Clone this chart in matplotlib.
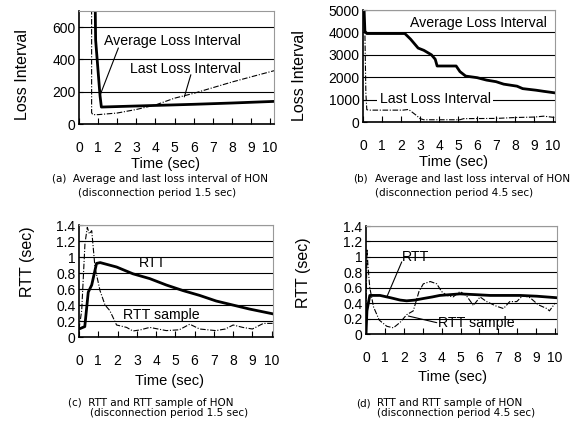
import matplotlib
matplotlib.use('Agg')
import matplotlib.pyplot as plt

plt.rcParams['font.family'] = ['Liberation Sans', 'DejaVu Sans']

# (a) disconnection 1.5 sec, loss interval
a_avg_t = [0.84, 0.87, 0.95, 1.05, 1.10, 1.17, 2, 4, 6, 8, 10.2]
a_avg_v = [800, 520, 400, 250, 175, 105, 108, 115, 122, 130, 140]
a_last_t = [0.66, 0.66, 0.72, 1.0, 2, 3, 4, 5, 6, 7, 8, 9, 10.2]
a_last_v = [800, 70, 58, 58, 68, 90, 118, 160, 190, 225, 260, 292, 330]

# (b) disconnection 4.5 sec, loss interval
b_avg_t = [0.05, 0.1, 0.2, 2.2, 2.5, 2.9, 3.2, 3.6, 3.8, 3.9, 4.9, 5.1, 5.4, 6.0,
           6.5, 7.0, 7.4, 8.1, 8.4, 9.1, 9.5, 10.1]
b_avg_v = [5200, 4050, 3950, 3950, 3700, 3300, 3200, 3000, 2800, 2500, 2500, 2250,
           2050, 1980, 1870, 1800, 1690, 1600, 1490, 1420, 1370, 1300]
b_last_t = [0.03, 0.1, 0.15, 0.2, 0.3, 2.1, 2.4, 2.8, 3.0, 3.2, 5.1, 5.3, 7.0,
            8.0, 9.0, 9.5, 10.1]
b_last_v = [5200, 4000, 1300, 550, 530, 530, 560, 300, 150, 100, 100, 150, 160,
            200, 220, 260, 200]

# (c) disconnection 1.5 sec, RTT
c_rtt_t = [0, 0.3, 0.48, 0.66, 0.91, 1.1, 1.95, 2.8, 3.67, 4.53, 5.4, 6.26, 7.12,
           7.98, 8.84, 10.05]
c_rtt_v = [0.1, 0.13, 0.56, 0.65, 0.92, 0.93, 0.875, 0.79, 0.73, 0.65, 0.58, 0.52,
           0.45, 0.40, 0.35, 0.29]
c_smp_t = [0, 0.14, 0.31, 0.43, 0.54, 0.66, 0.83, 1.09, 1.35, 1.6, 1.95, 2.47,
           2.8, 3.2, 3.67, 4.1, 4.53, 5.2, 5.75, 6.26, 7.1, 7.6, 8.0, 8.5, 9.0,
           9.57, 10.05]
c_smp_v = [0.1, 0.33, 1.17, 1.37, 1.29, 1.33, 0.87, 0.58, 0.40, 0.33, 0.15, 0.12,
           0.075, 0.09, 0.12, 0.1, 0.08, 0.09, 0.16, 0.1, 0.08, 0.1, 0.15, 0.12,
           0.1, 0.17, 0.17]

# (d) disconnection 4.5 sec, RTT
d_rtt_t = [0, 0.05, 0.2, 0.74, 1.3, 1.8, 2.15, 2.6, 3.03, 3.5, 3.9, 4.97, 5.8,
           6.56, 7.4, 8.15, 9.03, 10.1]
d_rtt_v = [0.0, 0.3, 0.5, 0.5, 0.47, 0.44, 0.43, 0.44, 0.46, 0.48, 0.5, 0.52,
           0.51, 0.5, 0.5, 0.5, 0.49, 0.47]
d_smp_t = [0, 0.05, 0.1, 0.2, 0.4, 0.7, 1.1, 1.45, 1.8, 2.15, 2.5, 2.68, 2.8,
           3.03, 3.4, 3.74, 4.0, 4.27, 4.6, 4.97, 5.3, 5.68, 6.03, 6.38, 6.9,
           7.27, 7.6, 7.97, 8.3, 8.68, 9.1, 9.56, 9.7, 10.0]
d_smp_v = [0.2, 1.1, 0.9, 0.6, 0.35, 0.18, 0.1, 0.08, 0.15, 0.25, 0.3, 0.45,
           0.55, 0.65, 0.68, 0.65, 0.55, 0.5, 0.48, 0.55, 0.5, 0.37, 0.48, 0.42,
           0.36, 0.33, 0.42, 0.42, 0.5, 0.47, 0.38, 0.33, 0.3, 0.4]

x_ticks = list(range(11))
loss_a_ticks = [0, 200, 400, 600]
loss_b_ticks = [0, 1000, 2000, 3000, 4000, 5000]
rtt_ticks = [0, 0.2, 0.4, 0.6, 0.8, 1.0, 1.2, 1.4]
rtt_labels = ['0', '0.2', '0.4', '0.6', '0.8', '1', '1.2', '1.4']

W, H = 574, 423
fig = plt.figure(figsize=(W / 100, H / 100), dpi=100)


def box(l, t, r, b):
    return [l / W, 1 - b / H, (r - l) / W, (b - t) / H]


def style(ax, xmax, yticks, ylim, ylabel, ylx, yly, xlx, xly, ylabels=None):
    ax.set_xlim(0, xmax)
    ax.set_ylim(*ylim)
    ax.set_xticks(x_ticks)
    ax.set_yticks(yticks)
    if ylabels:
        ax.set_yticklabels(ylabels)
    ax.tick_params(axis='x', direction='in', length=4, width=0.8, pad=12.5, labelsize=10)
    ax.tick_params(axis='y', direction='in', length=3, width=0.8, pad=2.5, labelsize=10)
    ax.yaxis.grid(True, color='black', lw=0.8)
    ax.set_axisbelow(True)
    for s in ['top', 'right']:
        ax.spines[s].set_color('#999999')
        ax.spines[s].set_linewidth(0.8)
    for s in ['left', 'bottom']:
        ax.spines[s].set_linewidth(1.2)
    ax.set_ylabel(ylabel, fontsize=11.5)
    ax.yaxis.set_label_coords(ylx, yly)
    ax.yaxis.label.set_va('center')
    ax.set_xlabel('Time (sec)', fontsize=10.5)
    ax.xaxis.set_label_coords(xlx, xly)
    ax.xaxis.label.set_va('top')


solid = dict(color='black', lw=2.0)
dashd = dict(color='black', lw=0.8, dashes=(5, 1.5, 1, 1.5))
lead = dict(arrowstyle='-', color='black', lw=0.8, shrinkA=0, shrinkB=0)
lab = dict(fontsize=10.2, va='center')

# (a)
ax = fig.add_axes(box(79, 11, 274, 124))
ax.plot(a_last_t, a_last_v, **dashd)
ax.plot(a_avg_t, a_avg_v, **solid)
style(ax, 10.2, loss_a_ticks, (0, 700), 'Loss Interval', -0.29, 0.434, 0.446, -0.288)
ax.text(1.3, 512, 'Average Loss Interval', **lab)
ax.annotate('', xy=(1.1, 178), xytext=(2.06, 471), arrowprops=lead)
ax.text(2.67, 343, 'Last Loss Interval', **lab)
ax.annotate('', xy=(5.51, 168), xytext=(5.85, 305), arrowprops=lead)

# (b)
ax = fig.add_axes(box(363, 10, 555, 122))
ax.plot(b_last_t, b_last_v, **dashd)
ax.plot(b_avg_t, b_avg_v, **solid)
style(ax, 10.1, loss_b_ticks, (0, 5000), 'Loss Interval', -0.333, 0.411, 0.469, -0.295)
ax.text(2.48, 4433, 'Average Loss Interval', bbox=dict(fc='white', ec='none', pad=1), **lab)
ax.text(0.87, 1015, 'Last Loss Interval', bbox=dict(fc='white', ec='none', pad=2), **lab)

# (c)
ax = fig.add_axes(box(79, 225, 273, 337))
ax.plot(c_smp_t, c_smp_v, **dashd)
ax.plot(c_rtt_t, c_rtt_v, **solid)
style(ax, 10.07, rtt_ticks, (0, 1.4), 'RTT (sec)', -0.263, 0.67, 0.464, -0.33,
      ylabels=rtt_labels)
ax.text(3.1, 0.92, 'RTT', **lab)
ax.text(2.3, 0.28, 'RTT sample', **lab)

# (d)
ax = fig.add_axes(box(366, 226, 557, 334))
ax.plot(d_smp_t, d_smp_v, **dashd)
ax.plot(d_rtt_t, d_rtt_v, **solid)
style(ax, 10.1, rtt_ticks, (0, 1.4), 'RTT (sec)', -0.325, 0.565, 0.455, -0.333,
      ylabels=rtt_labels)
ax.text(1.9, 1.0, 'RTT', **lab)
ax.annotate('', xy=(1.09, 0.474), xytext=(1.89, 0.935), arrowprops=lead)
ax.text(3.8, 0.14, 'RTT sample', **lab)
ax.annotate('', xy=(2.24, 0.233), xytext=(3.74, 0.147), arrowprops=lead)

# captions
cap = dict(fontsize=7.5, va='center', family='DejaVu Sans')
fig.text(52 / W, 1 - 178.5 / H, '(a)  Average and last loss interval of HON', **cap)
fig.text(78 / W, 1 - 193 / H, '(disconnection period 1.5 sec)', **cap)
fig.text(353 / W, 1 - 178.5 / H, '(b)', **cap)
fig.text(375 / W, 1 - 178.5 / H, 'Average and last loss interval of HON', **cap)
fig.text(375 / W, 1 - 193 / H, '(disconnection period 4.5 sec)', **cap)
fig.text(68 / W, 1 - 402.5 / H, '(c)  RTT and RTT sample of HON', **cap)
fig.text(90 / W, 1 - 413 / H, '(disconnection period 1.5 sec)', **cap)
fig.text(356 / W, 1 - 403 / H, '(d)', **cap)
fig.text(377 / W, 1 - 403 / H, 'RTT and RTT sample of HON', **cap)
fig.text(377 / W, 1 - 413 / H, '(disconnection period 4.5 sec)', **cap)

fig.savefig('out.png', dpi=100)
